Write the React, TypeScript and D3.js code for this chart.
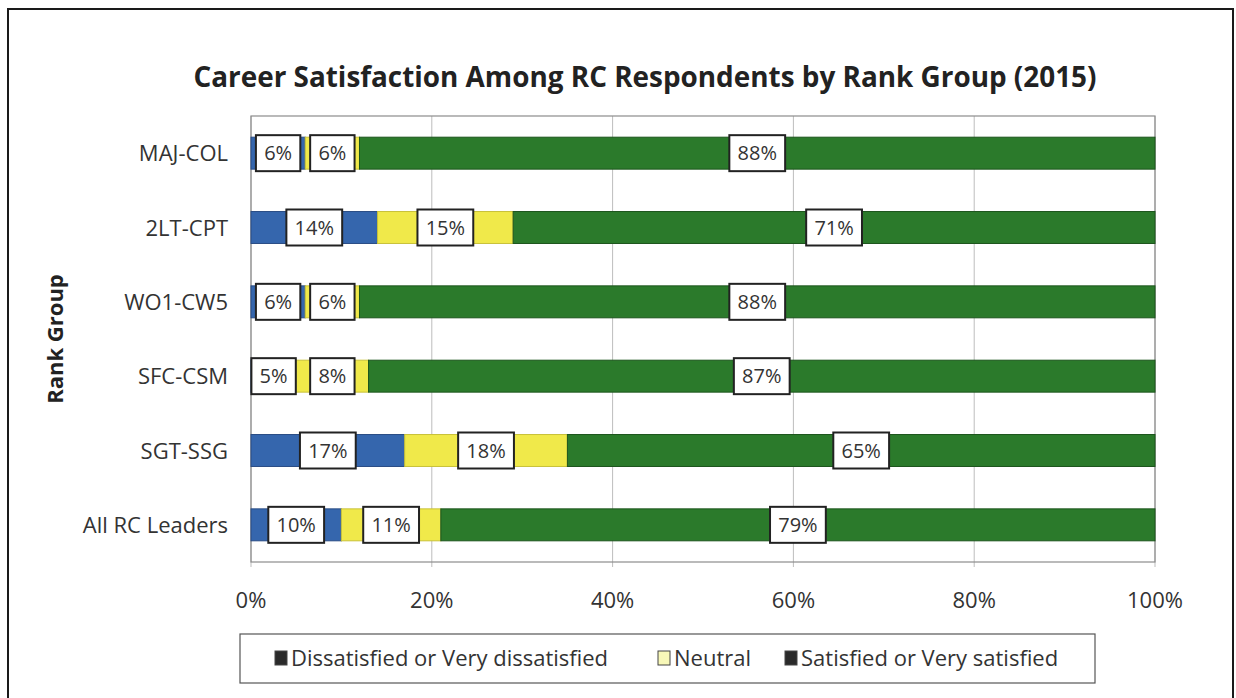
import React from 'react';
import * as d3 from 'd3';

const categories = ['MAJ-COL', '2LT-CPT', 'WO1-CW5', 'SFC-CSM', 'SGT-SSG', 'All RC Leaders'];
const dissatisfied = [6, 14, 6, 5, 17, 10];
const neutral = [6, 15, 6, 8, 18, 11];
const satisfied = [88, 71, 88, 87, 65, 79];
const seriesNames = ['Dissatisfied or Very dissatisfied', 'Neutral', 'Satisfied or Very satisfied'];
const xTicks = [0, 20, 40, 60, 80, 100];
const chartTitle = 'Career Satisfaction Among RC Respondents by Rank Group (2015)';
const yAxisTitle = 'Rank Group';

const colors = ['#3566ad', '#f0e94a', '#2b7a2b'];
const strokes = ['#2a4d85', '#c9c23a', '#1d551d'];
const legendSwatch = ['#2a2a2a', '#f8f8b8', '#2a2a2a'];
const FONT = "'Open Sans', 'Liberation Sans', sans-serif";

export default function App() {
  const W = 1236, H = 698;
  const plot = { left: 251, right: 1155, top: 116, bottom: 562 };
  const x = d3.scaleLinear().domain([0, 100]).range([plot.left, plot.right]);
  const y = d3.scaleBand<string>().domain(categories)
    .range([plot.top, plot.bottom]).paddingInner(0.57).paddingOuter(0.285);

  const rows = categories.map((c, i) => ({ cat: c, '0': dissatisfied[i], '1': neutral[i], '2': satisfied[i] }));
  const stack = d3.stack<any>().keys(['0', '1', '2'])(rows);

  const bw = y.bandwidth();

  return (
    <svg width={W} height={H} style={{ position: 'absolute', left: 0, top: 0, background: '#fff' }} fontFamily={FONT}>
      <rect x={8} y={9} width={1225} height={700} fill="#fff" stroke="#1a1a1a" strokeWidth={2} />
      <text x={645} y={87} textAnchor="middle" fontSize={28} fontWeight="bold" fill="#222"
        textLength={903} lengthAdjust="spacingAndGlyphs">{chartTitle}</text>
      {/* gridlines */}
      {xTicks.map(t => (
        <line key={'g' + t} x1={x(t)} x2={x(t)} y1={plot.top} y2={plot.bottom + 5} stroke="#bdbdbd" strokeWidth={1} />
      ))}
      <rect x={plot.left} y={plot.top} width={plot.right - plot.left} height={plot.bottom - plot.top} fill="none" stroke="#8c8c8c" strokeWidth={1.2} />
      {/* bars */}
      {stack.map((s, si) => s.map((d, di) => (
        <rect key={si + '-' + di} x={x(d[0])} y={y(categories[di])!} width={x(d[1]) - x(d[0])} height={bw}
          fill={colors[si]} stroke={strokes[si]} strokeWidth={1} />
      )))}
      {/* labels */}
      {stack.map((s, si) => s.map((d, di) => {
        const txt = Math.round(d[1] - d[0]) + '%';
        const cx = x((d[0] + d[1]) / 2);
        const cy = y(categories[di])! + bw / 2;
        const bwid = 33 + 11.4 * (txt.length - 1);
        return (
          <g key={'l' + si + '-' + di}>
            <rect x={cx - bwid / 2} y={cy - 18} width={bwid} height={36} fill="#fff" stroke="#222" strokeWidth={2} />
            <text x={cx} y={cy + 7} textAnchor="middle" fontSize={20} fill="#333">{txt}</text>
          </g>
        );
      }))}
      {/* category labels */}
      {categories.map(c => (
        <text key={c} x={228} y={y(c)! + bw / 2 + 8} textAnchor="end" fontSize={22} fill="#333">{c}</text>
      ))}
      <text transform={`translate(63,${(plot.top + plot.bottom) / 2}) rotate(-90)`} textAnchor="middle" fontSize={22} fontWeight="bold" fill="#222">{yAxisTitle}</text>
      {/* x ticks */}
      {xTicks.map(t => (
        <text key={'t' + t} x={x(t)} y={608} textAnchor="middle" fontSize={22} fill="#333">{t + '%'}</text>
      ))}
      {/* legend */}
      <rect x={240} y={634} width={855} height={49} fill="#fff" stroke="#555" strokeWidth={1.2} />
      {seriesNames.map((n, i) => {
        const lx = [275, 658, 785][i];
        return (
          <g key={n}>
            <rect x={lx} y={651} width={12} height={14} fill={legendSwatch[i]} stroke="#444" strokeWidth={1} />
            <text x={lx + 16} y={666} fontSize={22} fill="#333">{n}</text>
          </g>
        );
      })}
    </svg>
  );
}
